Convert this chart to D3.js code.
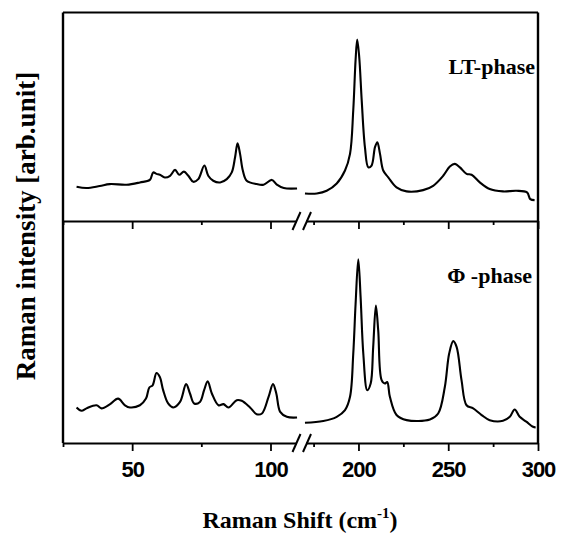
<!DOCTYPE html>
<html>
<head>
<meta charset="utf-8">
<script src="https://cdn.jsdelivr.net/npm/d3@7"></script>
<style>
  body { margin:0; background:#fff; }
  svg { display:block; }
  .tick text { font-family:"Liberation Sans", Arial, sans-serif; font-weight:bold; }
</style>
</head>
<body>
<div class="container"></div>
<script>
// --- data (shift in cm-1, intensity arb. 0..100 per panel) ---
var ltLowShift = [29.9,33.5,38.3,41.9,48,52.8,56.4,57.6,58.8,60,61.8,63.7,65.5,67,68.7,70.3,72.1,73.9,76.1,77.5,79.3,81.8,84.2,86,87.2,88.1,89,90,91.4,95,97.5,100.5,102.3,104.8,109.6];
var ltLowInt   = [16.4,15.8,16.8,17.7,17.4,18.5,19.7,23.3,22.6,22.2,20.9,21.7,24.5,22.2,23.7,21.7,18.8,20.1,26.6,21.7,19.3,18.5,20.1,23.3,30.6,37.3,32.2,24.2,19.3,17.7,17.4,19.7,17.4,15.8,15.6];
var ltHighShift = [170.2,176.8,182.3,187.9,192.5,195.3,197.1,198.4,199.3,200.4,201.8,203.6,205.5,207.3,209.2,210.5,212,213.8,216.6,221.2,226.8,236,241.6,247.2,250.9,253.7,256.5,260.2,263,267.6,273.1,280.5,288,293.9,295.7,298.1];
var ltHighInt   = [13.2,13.2,14.5,18,24.2,32.2,53.1,77.3,87,78.9,58,35.4,25.7,26.6,35.4,37.8,32.2,24.2,20.9,16.1,14.2,14.8,16.9,21.7,26.1,27.4,25.7,22.6,22.2,18.5,15.3,14.2,14.5,13.7,10.5,10];

var phiLowShift = [29.9,31.7,33.5,37.1,38.9,41.9,44.9,47.4,49.2,52.8,55,56.2,57.4,58.8,60,61.2,63,64.9,67.3,69.5,70.9,72.4,74.5,76,77.3,78.8,81.2,83,84.8,87.8,89.6,92.6,95,96.9,99.3,100.9,102.1,103.5,105.9,109.6];
var phiLowInt   = [16,14.5,15.6,17,15.6,17.4,20,17,16,17,20,25,26,31.5,29.7,23.8,17.8,16,18.5,26.5,22.3,17.8,18.5,23.8,27.8,22.3,17,17.5,16,19.3,19,16,13,13.3,20.8,26.5,22.3,14,11.8,11.5];
var phiHighShift = [170.2,180.4,187.9,192.5,195.3,197.1,198.4,199.9,201.2,202.7,204.9,206.8,208.2,209.7,211,212.9,214.7,216,217.5,221.2,226.8,239.8,244.4,248.1,250.5,252.8,254.7,257.4,260.2,263.9,268.6,273.1,280.5,284.3,287,289.8,293.5,297.2,298.7];
var phiHighInt   = [9.1,9.9,11.8,14.8,20.8,40.2,62.6,82.8,65.6,40.2,23.8,26.8,43.2,61.9,50.7,28.3,26.8,27.5,20.8,12.6,10.3,10.6,13.3,25.2,40.2,45.9,43.2,28.3,17,15.6,12.6,10.3,10,11.8,15.1,11.8,9.6,7.3,7];

var lowMajor = [50,100], lowMinor = [25,75];
var highMajor = [200,250,300], highMinor = [175,225,275];
var panelNames = ["LT-phase","\u03A6 -phase"];

var width=562, height=542;
var frame={left:63,right:538,top:12.5,mid:221,bottom:443};
var breakL=296.5, breakR=305.5;
var serif="'Liberation Serif','Times New Roman',serif";

var svg=d3.select(".container").append("svg").attr("width",width).attr("height",height);

var xLow=d3.scaleLinear().domain([25,109.4]).range([frame.left,breakL]);
var xHigh=d3.scaleLinear().domain([170.5,300]).range([breakR,frame.right]);
var yTop=d3.scaleLinear().domain([0,100]).range([frame.mid,frame.top]);
var yBot=d3.scaleLinear().domain([0,100]).range([frame.bottom,frame.mid]);

// frame sides and top
svg.append("line").attr("x1",frame.left).attr("x2",frame.left).attr("y1",frame.top).attr("y2",frame.bottom)
   .attr("stroke","#000").attr("stroke-width",2.4);
svg.append("line").attr("x1",frame.right).attr("x2",frame.right).attr("y1",frame.top).attr("y2",frame.bottom)
   .attr("stroke","#000").attr("stroke-width",2.4);
svg.append("line").attr("x1",frame.left).attr("x2",frame.right).attr("y1",frame.top).attr("y2",frame.top)
   .attr("stroke","#000").attr("stroke-width",2.2);

function drawAxis(yPos, labels){
    var g=svg.append("g").attr("transform","translate(0,"+yPos+")");
    [[xLow,lowMajor,lowMinor],[xHigh,highMajor,highMinor]].forEach(function(s){
        var maj=g.append("g").call(d3.axisBottom(s[0]).tickValues(s[1]).tickSize(8).tickSizeOuter(0)
                .tickFormat(labels?d3.format("d"):""));
        var mnr=g.append("g").call(d3.axisBottom(s[0]).tickValues(s[2]).tickSize(4).tickSizeOuter(0).tickFormat(""));
        mnr.select(".domain").remove();
        maj.select(".domain").attr("stroke-width",2.2);
        g.selectAll(".tick line").attr("stroke-width",1.8);
        maj.selectAll(".tick text").attr("y",18).attr("font-size","22px").attr("letter-spacing","-1px");
    });
    // break marks
    [breakL,breakR+1.5].forEach(function(bx){
        g.append("line").attr("x1",bx-4).attr("x2",bx+4).attr("y1",9).attr("y2",-9)
         .attr("stroke","#000").attr("stroke-width",2);
    });
}
drawAxis(frame.mid,false);
drawAxis(frame.bottom,true);

var line=function(xs){
    return d3.line().x(function(d){return xs(d[0]);}).y(function(d){return d[2](d[1]);})
             .curve(d3.curveCatmullRom.alpha(0.5));
};
function series(shift,inten,xs,ys){
    var pts=shift.map(function(v,i){return [v,inten[i],ys];});
    svg.append("path").attr("d",line(xs)(pts)).attr("fill","none")
       .attr("stroke","#000").attr("stroke-width",2.1).attr("stroke-linejoin","round");
}
series(ltLowShift,ltLowInt,xLow,yTop);
series(ltHighShift,ltHighInt,xHigh,yTop);
series(phiLowShift,phiLowInt,xLow,yBot);
series(phiHighShift,phiHighInt,xHigh,yBot);

svg.append("text").attr("x",535).attr("y",74).attr("text-anchor","end")
   .attr("font-family",serif).attr("font-weight","bold")
   .attr("font-size","22px").text(panelNames[0]);
svg.append("text").attr("x",532).attr("y",283).attr("text-anchor","end")
   .attr("font-family",serif).attr("font-weight","bold")
   .attr("font-size","22px").text(panelNames[1]);

// axis titles
svg.append("text").attr("transform","translate(35,226) rotate(-90)").attr("text-anchor","middle")
   .attr("font-family",serif).attr("font-weight","bold")
   .attr("font-size","27px").text("Raman intensity [arb.unit]");
var xt=svg.append("text").attr("x",300).attr("y",528).attr("text-anchor","middle")
   .attr("font-family",serif).attr("font-weight","bold")
   .attr("font-size","24px");
xt.append("tspan").text("Raman Shift (cm");
xt.append("tspan").attr("dy",-10).attr("font-size","15px").text("-1");
xt.append("tspan").attr("dy",10).text(")");
</script>
</body>
</html>
